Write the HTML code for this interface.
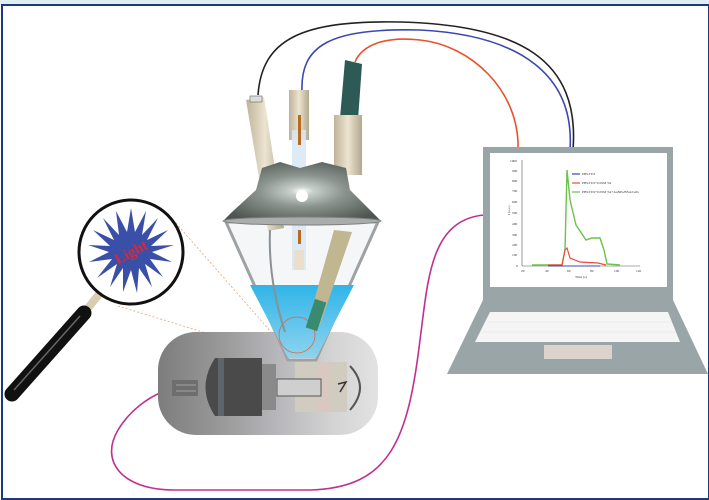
<!DOCTYPE html>
<html><head><meta charset="utf-8"><style>
html,body{margin:0;padding:0;background:#fff}
svg{display:block}
</style></head><body>
<svg width="709" height="500" viewBox="0 0 709 500" xmlns="http://www.w3.org/2000/svg">
<defs>
<linearGradient id="dev" x1="0" x2="1" y1="0" y2="0">
<stop offset="0" stop-color="#7d7d7d"/><stop offset="0.3" stop-color="#9a9a9a"/><stop offset="0.55" stop-color="#b8b8bc"/><stop offset="0.8" stop-color="#d4d4d4"/><stop offset="1" stop-color="#e2e2e2"/></linearGradient>
<linearGradient id="water" x1="0" x2="0" y1="0" y2="1">
<stop offset="0" stop-color="#2fb5e8"/><stop offset="1" stop-color="#8fd3ee"/></linearGradient>
<radialGradient id="cap" cx="0.5" cy="0.5" r="0.6">
<stop offset="0" stop-color="#ffffff"/><stop offset="0.12" stop-color="#c8d0cc"/><stop offset="0.45" stop-color="#8c948f"/><stop offset="1" stop-color="#4e5652"/></radialGradient>
<linearGradient id="beige" x1="0" x2="1"><stop offset="0" stop-color="#bfb39a"/><stop offset="0.5" stop-color="#ece4d0"/><stop offset="1" stop-color="#b3a88f"/></linearGradient>
</defs>
<rect x="0" y="0" width="709" height="5" fill="#dff0f2"/>
<rect x="2" y="5" width="707" height="494" fill="#fff" stroke="#1f3a7a" stroke-width="2"/>

<!-- wires -->
<path d="M573,150 C580,60 520,25 400,22 C300,20 262,40 258,95" fill="none" stroke="#222" stroke-width="1.6"/>
<path d="M570,150 C575,75 520,35 420,30 C330,28 300,45 302,92" fill="none" stroke="#3a48b0" stroke-width="1.6"/>
<path d="M518,150 C520,90 470,45 420,40 C385,36 362,45 355,62" fill="none" stroke="#e8512a" stroke-width="1.6"/>
<path d="M484,215 C430,220 428,280 420,340 C408,440 390,488 310,490 L175,490 C120,490 100,460 118,430 C130,410 148,398 162,392" fill="none" stroke="#c0308f" stroke-width="1.6"/>

<!-- laptop -->
<polygon points="483,300 673,300 708,374 447,374" fill="#9aa5a8"/>
<rect x="483" y="147" width="190" height="153" fill="#9aa5a8"/>
<rect x="490" y="153" width="177" height="134" fill="#fff"/>
<polygon points="490,312 668,312 680,342 475,342" fill="#f5f5f5"/>
<g stroke="#e4e4e4" stroke-width="0.6">
<line x1="487" y1="322" x2="672" y2="322"/><line x1="482" y1="332" x2="676" y2="332"/>
</g>
<rect x="544" y="345" width="68" height="14" fill="#dcd4cc"/>
<!-- chart -->
<g font-family="Liberation Serif, serif" font-size="3.5" fill="#333">
<line x1="522" y1="160" x2="522" y2="266" stroke="#555" stroke-width="0.6"/>
<line x1="522" y1="266" x2="640" y2="266" stroke="#555" stroke-width="0.6"/>
<text x="510" y="162">1000</text><text x="512" y="172">900</text><text x="512" y="182">800</text><text x="512" y="192">700</text><text x="512" y="203">600</text><text x="512" y="214">500</text><text x="512" y="225">400</text><text x="512" y="236">300</text><text x="512" y="246">200</text><text x="512" y="256">100</text><text x="516" y="267">0</text>
<text x="521" y="272">20</text><text x="545" y="272">40</text><text x="567" y="272">60</text><text x="590" y="272">80</text><text x="614" y="272">100</text><text x="636" y="272">120</text>
<text x="575" y="278">Time (s)</text>
<text x="510" y="215" transform="rotate(-90 510 215)">I (a.u.)</text>
<line x1="572" y1="174" x2="580" y2="174" stroke="#3a48b0" stroke-width="1.2"/><text x="582" y="175">PBS/ITO</text>
<line x1="572" y1="183" x2="580" y2="183" stroke="#f04a3a" stroke-width="1.2"/><text x="582" y="184">PBS/ITO+0.05M TA</text>
<line x1="572" y1="192" x2="580" y2="192" stroke="#6cc24a" stroke-width="1.2"/><text x="582" y="193">PBS/ITO+0.05M TA+AuNPs/BSA/GOx</text>
</g>
<path d="M532,265 L562,265 L565,250 L567,170 L570,200 L576,225 L586,240 L592,238 L600,238 L604,250 L607,264 L620,265" fill="none" stroke="#6cc24a" stroke-width="1.4"/>
<path d="M548,265 L562,265 L565,250 L567,248 L570,258 L580,262 L598,263 L606,265" fill="none" stroke="#f04a3a" stroke-width="1.2"/>
<line x1="548" y1="266" x2="600" y2="266" stroke="#3a48b0" stroke-width="1"/>

<!-- dashed lines -->
<line x1="168" y1="214" x2="278" y2="340" stroke="#f0a080" stroke-width="0.8" stroke-dasharray="2,2"/>
<line x1="118" y1="306" x2="288" y2="358" stroke="#f0a080" stroke-width="0.8" stroke-dasharray="2,2"/>

<!-- device -->
<rect x="158" y="332" width="220" height="103" rx="38" fill="url(#dev)"/>
<rect x="172" y="380" width="26" height="16" fill="#6e6e6e"/>
<line x1="176" y1="385" x2="196" y2="385" stroke="#888" stroke-width="2"/>
<line x1="176" y1="391" x2="196" y2="391" stroke="#888" stroke-width="2"/>
<path d="M215,358 L262,358 L262,416 L215,416 Q196,387 215,358 Z" fill="#4a4a4a"/>
<rect x="218" y="358" width="6" height="58" fill="#5e6468"/>
<rect x="262" y="364" width="14" height="46" fill="#8a8a8a"/>
<rect x="295" y="362" width="52" height="50" fill="#d0ccc0"/>
<rect x="318" y="362" width="12" height="50" fill="#d8c8c0"/>
<rect x="277" y="379" width="44" height="17" fill="#cfcfcf" stroke="#555" stroke-width="1"/>
<path d="M350,366 Q370,387 350,410" fill="none" stroke="#555" stroke-width="2"/>
<path d="M338,384 L346,382 L340,392" fill="none" stroke="#333" stroke-width="1.5"/>

<!-- flask -->
<polygon points="226,222 378,222 316,360 288,360" fill="#f4f6f8" stroke="#9ea2a4" stroke-width="3"/>
<polygon points="250,285 354,285 316,358 288,358" fill="url(#water)"/>
<circle cx="297" cy="335" r="18" fill="none" stroke="#e8603a" stroke-width="0.8"/>
<!-- electrodes -->
<path d="M246,100 L264,97 L284,228 L268,231 Z" fill="url(#beige)"/>
<rect x="250" y="96" width="12" height="6" fill="#ddd" stroke="#666" stroke-width="0.6"/>
<path d="M270,230 Q268,280 285,332" fill="none" stroke="#8a9094" stroke-width="2"/>
<rect x="289" y="90" width="20" height="50" fill="url(#beige)"/>
<rect x="292" y="130" width="14" height="140" fill="#d8e8f4" opacity="0.85"/>
<rect x="298" y="115" width="3" height="30" fill="#b86a20"/>
<rect x="298" y="230" width="3" height="14" fill="#b86a20"/>
<rect x="294" y="250" width="10" height="20" fill="#e8e0cc"/>
<path d="M345,60 L362,64 L358,120 L340,118 Z" fill="#2d5a55"/>
<rect x="334" y="115" width="28" height="60" fill="url(#beige)"/>
<path d="M334,230 L352,232 L320,325 L308,322 Z" fill="#c0b690"/>
<rect x="310" y="300" width="12" height="30" fill="#3a8a70" transform="rotate(18 316 315)"/>
<!-- cap -->
<path d="M262,168 L280,162 L300,168 L322,162 L346,168 L350,190 L372,212 L380,220 L224,220 L232,212 L256,190 Z" fill="url(#cap)"/>
<ellipse cx="302" cy="221" rx="79" ry="4" fill="#a9aeac" stroke="#7c807e" stroke-width="1"/>
<circle cx="302" cy="196" r="6" fill="#fff"/>

<!-- magnifier -->
<line x1="100" y1="293" x2="84" y2="313" stroke="#d8cfb0" stroke-width="8"/>
<line x1="84" y1="313" x2="12" y2="394" stroke="#111" stroke-width="15" stroke-linecap="round"/>
<line x1="80" y1="316" x2="14" y2="390" stroke="#666" stroke-width="1.5"/>
<circle cx="131" cy="252" r="52" fill="#fff" stroke="#111" stroke-width="3"/>
<polygon fill="#3a4fa8" points="131,208 135,232 146,211 142,235 158,218 147,240 168,230 151,246 174,245 152,252 172,262 150,259 163,277 145,264 152,287 139,268 137,293 131,270 123,292 123,268 110,287 117,264 97,278 112,259 89,262 109,252 88,245 110,246 93,230 114,240 103,218 119,235 116,211 127,232"/>
<text x="131" y="257" font-family="Liberation Serif, serif" font-weight="bold" font-size="15" fill="#d8283a" text-anchor="middle" transform="rotate(-28 131 252)">Light</text>
</svg>
</body></html>
